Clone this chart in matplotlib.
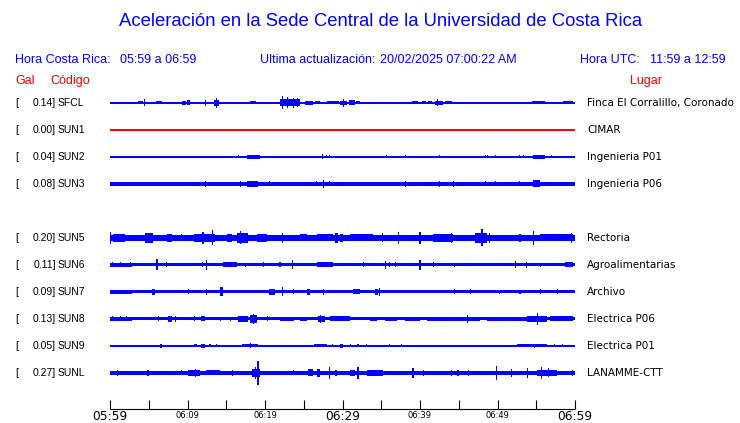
import matplotlib
matplotlib.use("Agg")
import matplotlib.pyplot as plt

# estaciones, valores y lugares
stations = ["SFCL", "SUN1", "SUN2", "SUN3", "SUN5", "SUN6", "SUN7", "SUN8", "SUN9", "SUNL"]
gal = [0.14, 0.00, 0.04, 0.08, 0.20, 0.11, 0.09, 0.13, 0.05, 0.27]
places = ["Finca El Corralillo, Coronado", "CIMAR", "Ingenieria P01", "Ingenieria P06",
          "Rectoria", "Agroalimentarias", "Archivo", "Electrica P06", "Electrica P01", "LANAMME-CTT"]
rows = [0, 1, 2, 3, 5, 6, 7, 8, 9, 10]
colors = ["blue", "red", "blue", "blue", "blue", "blue", "blue", "blue", "blue", "blue"]

# minutes after 05:59
tick_minutes = list(range(0, 61, 5))
tick_labels = ["05:59", "", "06:09", "", "06:19", "", "06:29", "", "06:39", "", "06:49", "", "06:59"]

# quiet trace half width (px)
base = [0.5, 0.5, 0.5, 1.7, 2.8, 1.5, 1.5, 1.5, 0.7, 1.9]

# bursts: (start min, end min, half amplitude px)
bursts = {
    "SFCL": [(3.6, 4.3, 1.5), (4.5, 4.5, 3.5), (4.7, 5.6, 1.2), (5.9, 6.7, 1.5), (7.8, 8.6, 1),
             (9.3, 9.8, 2), (9.9, 10.3, 2.5), (10.6, 11.5, 1),
             (12.3, 12.3, 3), (13.4, 14.1, 3), (13.8, 13.8, 5), (14.6, 15.2, 1), (18.1, 18.8, 1.5),
             (21.9, 24.5, 3.5), (22.2, 22.2, 6.5), (22.9, 22.9, 5.5), (23.7, 23.7, 5), (24.2, 24.2, 4.5),
             (25.2, 26.2, 2), (26.4, 27.1, 1.5), (28.0, 29.5, 1.5), (29.7, 30.6, 2), (30.1, 30.1, 4),
             (30.8, 31.6, 2.5), (31.8, 32.3, 1.5),
             (32.6, 33.2, 1), (35.7, 37.8, 1.2), (38.1, 38.7, 1), (39.0, 39.7, 1.5), (40.2, 40.8, 1.5),
             (41.0, 41.6, 1.5), (41.9, 43.0, 2), (42.2, 42.2, 3.5), (43.2, 44.1, 1.5),
             (44.3, 45.6, 1.2), (46.0, 47.1, 1.2), (48.4, 49.3, 1), (50.3, 51.0, 1), (51.6, 52.2, 1),
             (54.5, 56.1, 1.5), (57.2, 58.0, 1.2), (58.4, 59.7, 1.5)],
    "SUN1": [],
    "SUN2": [(16.6, 16.6, 1.5), (17.7, 19.4, 2), (27.4, 27.4, 2.5), (27.9, 27.9, 1.5), (28.3, 28.3, 1.5),
             (35.7, 35.7, 1.5), (38.1, 38.1, 1.5), (42.5, 42.5, 1.5), (48.4, 48.4, 1.5), (48.7, 48.7, 1.5),
             (49.7, 49.7, 1.5), (52.8, 52.8, 1.5), (53.3, 53.3, 1.5), (54.6, 56.1, 2), (57.0, 57.0, 1.5)],
    "SUN3": [(0.0, 2.8, 2.2), (12.3, 12.3, 3), (16.8, 16.8, 3), (17.7, 19.1, 3), (20.6, 20.6, 2.5),
             (26.6, 26.6, 2.5), (27.5, 27.5, 4), (28.3, 28.3, 2.5), (38.1, 38.1, 3), (42.5, 42.5, 3),
             (44.3, 44.3, 3), (48.4, 48.4, 2.5), (49.7, 49.7, 2.5), (52.8, 52.8, 2.5), (54.6, 55.5, 3.5)],
    "SUN5": [(0.0, 0.1, 6), (0.4, 1.9, 4), (4.5, 5.5, 5), (7.3, 8.0, 4), (9.2, 9.2, 3.5), (10.8, 13.5, 4),
             (12.0, 12.0, 6), (13.2, 13.2, 7.5), (15.1, 15.7, 4), (16.4, 17.8, 5), (16.8, 16.8, 6.5),
             (19.0, 20.3, 4), (22.2, 22.2, 5), (24.5, 25.4, 3.5), (26.7, 28.8, 3.5), (29.0, 29.4, 5),
             (29.7, 30.1, 4), (31.0, 33.9, 3.5), (35.2, 35.2, 4.5), (37.2, 37.2, 6), (40.0, 40.0, 6),
             (41.7, 44.3, 4), (44.1, 44.1, 5), (47.1, 48.6, 5), (48.0, 48.0, 8.5), (49.0, 49.0, 5),
             (52.9, 52.9, 4), (54.6, 54.6, 7), (55.5, 59.7, 3.5), (59.5, 59.5, 5)],
    "SUN6": [(0.0, 2.8, 2), (0.3, 0.3, 2.5), (1.3, 1.3, 2.5), (2.6, 2.6, 2.5), (5.9, 6.2, 5.5),
             (7.3, 7.3, 2.5), (11.9, 11.9, 2.5), (12.5, 12.5, 5), (14.6, 16.4, 2.5), (17.5, 17.5, 2),
             (19.8, 19.8, 2.5), (21.8, 22.0, 2.5), (23.5, 23.5, 4.5), (26.7, 28.8, 2.5), (32.7, 32.7, 2.5),
             (35.5, 35.5, 4), (36.1, 36.1, 2.5), (36.8, 36.8, 2.5), (40.0, 40.0, 5), (41.7, 41.7, 2.5),
             (44.4, 44.4, 2), (52.3, 52.3, 3.5), (53.8, 53.8, 3), (55.5, 55.5, 2), (58.7, 59.7, 2.5)],
    "SUN7": [(0.0, 2.8, 2), (5.4, 5.8, 3), (10.1, 10.1, 2.5), (12.5, 12.5, 3), (14.2, 14.6, 4.5),
             (20.5, 21.3, 3), (22.2, 22.2, 4.5), (23.7, 23.7, 2.5), (25.4, 25.8, 3), (27.5, 27.5, 3),
             (31.4, 32.3, 2.5), (34.2, 34.6, 3), (34.8, 34.8, 4), (44.4, 44.4, 2.5), (46.5, 46.5, 2.5),
             (50.3, 50.3, 2), (52.9, 52.9, 2), (55.5, 55.5, 2.5), (57.7, 57.7, 2.5)],
    "SUN8": [(0.0, 2.8, 2), (0.3, 0.3, 2.5), (1.3, 1.3, 2.5), (2.1, 2.1, 2.5), (6.2, 6.2, 2.5),
             (7.5, 8.0, 3), (8.5, 8.5, 3), (10.9, 10.9, 2.5), (11.8, 12.3, 2.5), (14.2, 14.2, 2),
             (15.5, 15.5, 2), (16.5, 17.8, 3), (18.1, 19.0, 4), (18.5, 18.5, 5), (20.3, 20.3, 2.5),
             (21.9, 23.7, 2), (24.5, 25.4, 2), (26.8, 27.7, 3), (27.2, 27.2, 4), (28.4, 31.0, 2.5),
             (33.5, 34.5, 2.2), (35.5, 37.0, 2.2), (38.0, 40.0, 2.2), (40.9, 47.7, 2.2), (46.1, 46.1, 4),
             (48.6, 53.8, 2.2), (53.8, 56.4, 3), (55.2, 55.2, 6), (56.8, 59.7, 2.5)],
    "SUN9": [(3.5, 3.5, 1), (4.8, 4.8, 1), (6.5, 6.7, 2), (7.5, 7.5, 1), (10.8, 11.2, 1.5),
             (11.8, 12.3, 2), (12.9, 12.9, 1.5), (13.7, 13.7, 1.5), (17.0, 19.1, 1.5), (18.1, 18.1, 2.5),
             (20.3, 20.3, 1), (22.2, 22.2, 1), (23.5, 23.5, 1), (26.3, 28.0, 1.5), (28.7, 28.7, 1.5),
             (29.7, 30.1, 2), (31.0, 31.0, 1.5), (32.0, 32.0, 1.5), (33.1, 33.1, 1.5), (36.1, 36.1, 1.5),
             (37.6, 37.6, 1.5), (38.9, 40.0, 1.2), (41.0, 42.6, 1.2), (43.2, 45.2, 1.2), (45.6, 46.9, 1.2),
             (47.3, 49.9, 1.2), (52.5, 56.4, 1.5), (54.8, 54.8, 2), (57.3, 57.3, 1.5), (58.4, 58.4, 1.5)],
    "SUNL": [(0.0, 2.8, 2.3), (1.0, 1.0, 3), (4.9, 4.9, 3), (9.2, 9.2, 2.5), (10.1, 11.6, 3),
             (11.0, 11.0, 4), (12.4, 14.2, 2.5), (15.8, 15.8, 3), (18.3, 19.4, 4), (19.1, 19.1, 12),
             (18.8, 18.8, 6), (23.7, 23.7, 2.5), (25.5, 26.2, 3.5), (26.7, 27.1, 4), (28.3, 28.3, 6),
             (29.0, 29.3, 3), (31.0, 31.6, 3), (32.0, 32.0, 6), (33.2, 35.2, 2.8), (39.1, 39.1, 5),
             (40.5, 40.5, 3), (44.1, 44.1, 3), (44.9, 44.9, 3), (46.3, 46.3, 3), (49.9, 49.9, 7),
             (51.8, 51.8, 4), (53.9, 53.9, 5), (55.1, 57.7, 3), (55.7, 55.7, 6), (56.6, 56.6, 4.5),
             (59.7, 59.7, 3)],
}

BLUE = "#0000ff"
RED = "#ff0000"
W, H = 740, 423
ROW = 27


def fx(x):
    return x / W


def fy(y):
    return 1 - y / H


fig = plt.figure(figsize=(7.4, 4.23), dpi=100)
ax = fig.add_axes([0, 0, 1, 1])
# 60 min span 110px..575px, row 0 at 103px
ax.set_xlim(-110 / 7.75, 630 / 7.75)
ax.set_ylim(H - 103, -103)
ax.axis("off")

for i, st in enumerate(stations):
    yc = rows[i] * ROW
    ypx = 103 + rows[i] * ROW
    col = colors[i]
    h0 = max(base[i], 0.55)
    ax.bar(0, 2 * h0, width=60, bottom=yc - h0, align="edge", color=col, linewidth=0, antialiased=False)
    for t0, t1, h in bursts[st]:
        if t1 > t0:
            ax.bar(t0, 2 * h, width=t1 - t0, bottom=yc - h, align="edge", color=col,
                   linewidth=0, antialiased=False)
        else:
            ax.bar(t0, 2 * h, width=0.14, bottom=yc - h, align="center", color=col,
                   linewidth=0, antialiased=False)

    # labels
    fig.text(fx(15), fy(ypx), "[", fontsize=7.5, family="Liberation Sans", va="center")
    fig.text(fx(56), fy(ypx), f"{gal[i]:.2f}]", fontsize=7.5,
             family="Liberation Sans", va="center", ha="right")
    fig.text(fx(58), fy(ypx), st, fontsize=7.5, family="Liberation Sans", va="center")
    fig.text(fx(587), fy(ypx), places[i], fontsize=7.5, family="DejaVu Sans", va="center")

# time axis
axis_y = 306
ax.hlines(axis_y, 0, 60, color="black", linewidth=0.8)
ax.vlines(tick_minutes, axis_y - 9, axis_y, color="black", linewidth=0.8)
for t, lab in zip(tick_minutes, tick_labels):
    if lab == "":
        continue
    big = t in (0, 30, 60)
    ax.text(t, axis_y + (11.3 if big else 9), lab, ha="center", va="baseline",
            fontsize=8.8 if big else 6, family="DejaVu Sans")

# header
fig.text(fx(381), fy(22), "Aceleración en la Sede Central de la Universidad de Costa Rica",
         ha="center", va="center", color=BLUE, fontsize=13.3, family="Liberation Sans")
hdr = dict(va="center", color=BLUE, fontsize=9, family="Liberation Sans")
fig.text(fx(15), fy(60), "Hora Costa Rica:", **hdr)
fig.text(fx(120), fy(60), "05:59 a 06:59", **hdr)
fig.text(fx(260), fy(60), "Ultima actualización:", **hdr)
fig.text(fx(380), fy(60), "20/02/2025 07:00:22 AM", **hdr)
fig.text(fx(580), fy(60), "Hora UTC:", **hdr)
fig.text(fx(650), fy(60), "11:59 a 12:59", **hdr)
red = dict(va="center", color=RED, fontsize=9, family="Liberation Sans")
fig.text(fx(15), fy(81), "Gal", **red)
fig.text(fx(50), fy(81), "Código", **red)
fig.text(fx(646), fy(81), "Lugar", ha="center", **red)

fig.savefig("out.png", dpi=100)
